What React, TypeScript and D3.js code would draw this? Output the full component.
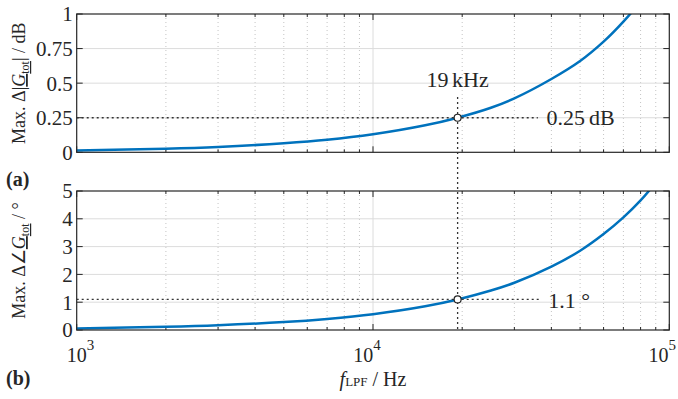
import React from "react";
import * as d3 from "d3";

// values
const fLPF = [1e3, 2e3, 3e3, 5e3, 7e3, 1e4, 1.5e4, 1.93e4, 2.5e4, 3e4, 4e4, 5e4, 6e4, 7e4, 8e4, 9e4];
const magErr = [0.013, 0.026, 0.039, 0.065, 0.09, 0.13, 0.195, 0.25, 0.322, 0.39, 0.53, 0.66, 0.8, 0.945, 1.09, 1.24];
const phaseErr = [0.057, 0.114, 0.17, 0.285, 0.4, 0.57, 0.855, 1.1, 1.42, 1.7, 2.28, 2.85, 3.45, 4.05, 4.66, 5.3];

const magTicks = [0, 0.25, 0.5, 0.75, 1];
const magTickLabels = ["0", "0.25", "0.5", "0.75", "1"];
const phaseTicks = [0, 1, 2, 3, 4, 5];
const decades = [1e3, 1e4, 1e5];

const markF = 1.93e4;
const markMag = 0.25;
const markPhase = 1.1;

const W = 678,
  H = 399;
const left = 76.7,
  right = 669.3;
const panelA = { top: 14, bottom: 152.3 };
const panelB = { top: 191, bottom: 330 };

const font = "'Liberation Serif', 'Times New Roman', serif";
const ink = "#262626";
const blue = "#0072BD";

const x = d3.scaleLog().domain([1e3, 1e5]).range([left, right]);
const minorF: number[] = [];
[1e3, 1e4].forEach((d) => {
  for (let k = 2; k <= 9; k++) minorF.push(d * k);
});

const Panel = ({
  id,
  top,
  bottom,
  yMax,
  ticks,
  labels,
  values,
  showX,
}: {
  id: string;
  top: number;
  bottom: number;
  yMax: number;
  ticks: number[];
  labels: string[];
  values: number[];
  showX: boolean;
}) => {
  const y = d3.scaleLinear().domain([0, yMax]).range([bottom, top]);
  const line = d3
    .line<number>()
    .x((_, i) => x(fLPF[i]))
    .y((d) => y(d))
    .curve(d3.curveCatmullRom.alpha(0.5));
  return (
    <g>
      <defs>
        <clipPath id={"clip-" + id}>
          <rect x={left} y={top} width={right - left} height={bottom - top} />
        </clipPath>
      </defs>
      {/* grid */}
      {minorF.map((f) => (
        <line
          key={"mg" + f}
          x1={x(f)}
          x2={x(f)}
          y1={top}
          y2={bottom}
          stroke="#c4c4c4"
          strokeWidth={1}
          strokeDasharray="1,3"
        />
      ))}
      {ticks.slice(1, -1).map((t) => (
        <line key={"yg" + t} x1={left} x2={right} y1={y(t)} y2={y(t)} stroke="#dcdcdc" strokeWidth={1} />
      ))}
      <line x1={x(1e4)} x2={x(1e4)} y1={top} y2={bottom} stroke="#dcdcdc" strokeWidth={1} />
      {/* ticks */}
      {ticks.map((t, i) => (
        <g key={"yt" + t}>
          <line x1={left} x2={left + 6} y1={y(t)} y2={y(t)} stroke={ink} />
          <line x1={right} x2={right - 6} y1={y(t)} y2={y(t)} stroke={ink} />
          <text
            x={left - 4}
            y={y(t)}
            dy="0.35em"
            textAnchor="end"
            fontFamily={font}
            fontSize={21}
            fill={ink}
          >
            {labels[i]}
          </text>
        </g>
      ))}
      {minorF.map((f) => (
        <g key={"xt" + f}>
          <line x1={x(f)} x2={x(f)} y1={bottom} y2={bottom - 3} stroke={ink} />
          <line x1={x(f)} x2={x(f)} y1={top} y2={top + 3} stroke={ink} />
        </g>
      ))}
      {decades.map((f, i) => {
        // keep the outer labels inside the figure
        const anchor = i === 0 ? "start" : i === decades.length - 1 ? "end" : "middle";
        const lx = i === 0 ? x(f) - 10 : i === decades.length - 1 ? W - 2 : x(f) - 6;
        return (
          <g key={"xd" + f}>
            <line x1={x(f)} x2={x(f)} y1={bottom} y2={bottom - 6} stroke={ink} />
            <line x1={x(f)} x2={x(f)} y1={top} y2={top + 6} stroke={ink} />
            {showX && (
              <text x={lx} y={bottom + 32} textAnchor={anchor} fontFamily={font} fontSize={20} fill={ink}>
                10
                <tspan dy={-12} fontSize={15}>
                  {Math.round(Math.log10(f))}
                </tspan>
              </text>
            )}
          </g>
        );
      })}
      {/* curve */}
      <path
        d={line(values) ?? ""}
        fill="none"
        stroke={blue}
        strokeWidth={2.5}
        clipPath={`url(#clip-${id})`}
      />
      <rect x={left} y={top} width={right - left} height={bottom - top} fill="none" stroke={ink} strokeWidth={1.2} />
    </g>
  );
};

export default function App() {
  const yA = d3.scaleLinear().domain([0, 1]).range([panelA.bottom, panelA.top]);
  const yB = d3.scaleLinear().domain([0, 5]).range([panelB.bottom, panelB.top]);
  const mx = x(markF);
  const dash = { stroke: "#333", strokeWidth: 1.3, strokeDasharray: "2,3", fill: "none" };
  return (
    <svg
      width={W}
      height={H}
      style={{ position: "absolute", left: 0, top: 0, background: "#fff" }}
    >
      <Panel
        id="a"
        top={panelA.top}
        bottom={panelA.bottom}
        yMax={1}
        ticks={magTicks}
        labels={magTickLabels}
        values={magErr}
        showX={false}
      />
      <Panel
        id="b"
        top={panelB.top}
        bottom={panelB.bottom}
        yMax={5}
        ticks={phaseTicks}
        labels={phaseTicks.map(String)}
        values={phaseErr}
        showX={true}
      />

      {/* annotations */}
      <line x1={mx} x2={mx} y1={yA(0.4)} y2={panelB.bottom} {...dash} />
      <line x1={left} x2={x(3.6e4)} y1={yA(markMag)} y2={yA(markMag)} {...dash} />
      <line x1={left} x2={x(3.7e4)} y1={yB(markPhase)} y2={yB(markPhase)} {...dash} />
      <circle cx={mx} cy={yA(markMag)} r={3.5} fill="#fff" stroke="#222" strokeWidth={1.2} />
      <circle cx={mx} cy={yB(markPhase)} r={3.5} fill="#fff" stroke="#222" strokeWidth={1.2} />
      <text x={mx} y={87} textAnchor="middle" fontFamily={font} fontSize={22} fill={ink}>
        19<tspan dx={3.5}>kHz</tspan>
      </text>
      <text x={x(3.85e4)} y={yA(markMag)} dy="0.35em" fontFamily={font} fontSize={22} fill={ink}>
        0.25<tspan dx={4}>dB</tspan>
      </text>
      <text x={x(3.9e4)} y={yB(markPhase)} dy="0.4em" fontFamily={font} fontSize={22} fill={ink}>
        1.1 °
      </text>

      {/* axis labels */}
      <text
        transform={`translate(25, ${(panelA.top + panelA.bottom) / 2}) rotate(-90)`}
        textAnchor="middle"
        fontFamily={font}
        fontSize={18}
        fill={ink}
      >
        Max. Δ|
        <tspan fontStyle="italic" textDecoration="underline">
          G
        </tspan>
        <tspan fontSize={12} dy={4} textDecoration="underline">
          tot
        </tspan>
        <tspan dy={-4}>| / dB</tspan>
      </text>
      <text
        transform={`translate(25, ${(panelB.top + panelB.bottom) / 2}) rotate(-90)`}
        textAnchor="middle"
        fontFamily={font}
        fontSize={18}
        fill={ink}
      >
        Max. Δ∠
        <tspan fontStyle="italic" textDecoration="underline">
          G
        </tspan>
        <tspan fontSize={12} dy={4} textDecoration="underline">
          tot
        </tspan>
        <tspan dy={-4}> / °</tspan>
      </text>
      <text x={x(1e4)} y={386} textAnchor="middle" fontFamily={font} fontSize={20} fill={ink}>
        <tspan fontStyle="italic">f</tspan>
        <tspan fontSize={13}>LPF</tspan>
        <tspan> / Hz</tspan>
      </text>
      <text x={6} y={186} fontFamily={font} fontSize={20} fontWeight="bold" fill={ink}>
        (a)
      </text>
      <text x={6} y={385} fontFamily={font} fontSize={20} fontWeight="bold" fill={ink}>
        (b)
      </text>
    </svg>
  );
}
